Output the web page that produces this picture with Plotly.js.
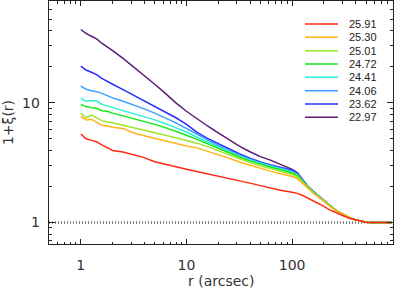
<!DOCTYPE html>
<html><head><meta charset="utf-8">
<script src="https://cdn.plot.ly/plotly-3.0.1.min.js"></script>
<style>html,body{margin:0;padding:0;background:#fff}#chart{width:395px;height:289px}</style>
</head><body><div id="chart"></div>
<script>
// radius grid (arcsec)
const R = [1,1.12,1.26,1.41,1.58,1.78,2.0,2.51,3.16,3.98,5.01,6.31,7.94,10,12.6,15.8,20,25.1,31.6,39.8,50.1,63.1,79.4,100,112,126,141,158,178,200,224,251,282,316,355,398,447,501,562,708,870];
// 1+xi(r) for each magnitude bin
const m2591 = [5.49,5.0,4.85,4.73,4.45,4.2,4.0,3.88,3.7,3.48,3.22,3.05,2.92,2.78,2.66,2.55,2.45,2.36,2.25,2.13,2.03,1.93,1.85,1.79,1.75,1.68,1.60,1.53,1.45,1.36,1.28,1.22,1.17,1.12,1.08,1.05,1.02,1.005,1.0,1.0,1.0];
const m2530 = [7.65,7.2,7.3,6.9,6.5,6.4,6.25,6.1,5.6,5.3,5.05,4.8,4.55,4.35,4.2,3.95,3.7,3.45,3.2,3.0,2.82,2.67,2.54,2.42,2.32,2.10,1.91,1.76,1.62,1.49,1.38,1.28,1.21,1.14,1.09,1.05,1.02,1.005,1.0,1.0,1.0];
const m2501 = [8.2,7.5,7.9,7.5,7.1,6.9,6.8,6.5,6.2,5.95,5.65,5.4,5.1,4.85,4.6,4.3,3.97,3.67,3.4,3.17,2.97,2.8,2.66,2.52,2.40,2.16,1.94,1.78,1.64,1.50,1.39,1.29,1.21,1.14,1.09,1.05,1.02,1.005,1.0,1.0,1.0];
const m2472 = [9.7,9.3,9.1,9.0,8.6,8.5,8.2,7.8,7.4,7.0,6.6,6.2,5.8,5.35,4.95,4.55,4.15,3.82,3.52,3.27,3.06,2.89,2.74,2.59,2.46,2.20,1.96,1.79,1.64,1.51,1.39,1.29,1.21,1.14,1.09,1.05,1.02,1.005,1.0,1.0,1.0];
const m2441 = [10.9,10.3,10.4,10.4,9.7,9.4,9.2,8.7,8.2,7.7,7.2,6.7,6.2,5.7,5.15,4.7,4.25,3.9,3.58,3.32,3.1,2.93,2.78,2.64,2.50,2.22,1.97,1.80,1.65,1.51,1.39,1.29,1.21,1.14,1.09,1.05,1.02,1.005,1.0,1.0,1.0];
const m2406 = [13.8,13.0,12.6,12.4,12.0,11.4,11.0,10.3,9.6,8.9,8.2,7.5,6.8,6.1,5.45,4.9,4.4,4.0,3.65,3.38,3.15,2.97,2.82,2.68,2.52,2.23,1.98,1.80,1.65,1.51,1.39,1.29,1.21,1.14,1.09,1.05,1.02,1.005,1.0,1.0,1.0];
const m2362 = [20.3,18.8,18.0,17.2,16.0,15.2,14.3,12.9,11.6,10.4,9.4,8.4,7.5,6.6,5.65,5.05,4.55,4.1,3.75,3.45,3.2,3.02,2.88,2.73,2.56,2.25,1.99,1.81,1.66,1.52,1.40,1.29,1.21,1.14,1.09,1.05,1.02,1.005,1.0,1.0,1.0];
const m2297 = [41,38,36,34.2,31.5,29.5,27.3,23.5,20,16.9,14.3,12.0,10.0,8.5,7.35,6.4,5.6,4.9,4.35,3.9,3.55,3.3,3.05,2.78,2.60,2.27,2.0,1.82,1.67,1.52,1.40,1.29,1.21,1.14,1.09,1.05,1.02,1.005,1.0,1.0,1.0];

const NAMES = ['25.91','25.30','25.01','24.72','24.41','24.06','23.62','22.97'];
const SERIES = [m2591,m2530,m2501,m2472,m2441,m2406,m2362,m2297];
const COLORS = ['#ff2a10','#ffb21a','#9be62a','#19e619','#2ff0d2','#3ea0ff','#2a2aff','#5a1a78'];
const REF_X = [0.5, 900];
const REF_Y = [1, 1];
const XTICKS = [1, 10, 100];
const XTICKTEXT = ['1', '10', '100'];
const YTICKS = [1, 10];
const YTICKTEXT = ['1', '10'];
const XTITLE = 'r (arcsec)';
const YTITLE = '1+ξ(r)';

const W = 395, H = 289;
const M = {l: 49, r: 2, t: 1, b: 45};
const pw = W - M.l - M.r, ph = H - M.t - M.b;
const px2x = p => (p - M.l) / pw;
const px2y = p => (H - M.b - p) / ph;

const traces = [{
  x: REF_X, y: REF_Y, mode: 'lines', showlegend: false, hoverinfo: 'skip',
  line: {color: '#6e6e6e', width: 2.5, dash: '1px,2px'}
}];
for (let i = SERIES.length - 1; i >= 0; i--) {
  traces.push({x: R, y: SERIES[i], mode: 'lines', name: NAMES[i], showlegend: false,
    line: {color: COLORS[i], width: 1.5}});
}

const axisFont = {family: 'DejaVu Sans, sans-serif', size: 14, color: '#333'};
const shapes = [], annotations = [];
NAMES.forEach((n, i) => {
  const yy = 24 + 13.33 * i;
  shapes.push({type: 'line', xref: 'paper', yref: 'paper', x0: px2x(305), x1: px2x(338),
    y0: px2y(yy), y1: px2y(yy), line: {color: COLORS[i], width: 1.5}});
  annotations.push({xref: 'paper', yref: 'paper', x: px2x(347), y: px2y(yy), text: n,
    showarrow: false, xanchor: 'left', yanchor: 'middle',
    font: {family: 'Liberation Sans, Arial, sans-serif', size: 11, color: '#222'}});
});
// x-axis title placed below the tick labels
annotations.push({xref: 'paper', yref: 'paper', x: 0.5, y: px2y(281), text: XTITLE,
  showarrow: false, xanchor: 'center', yanchor: 'middle', font: axisFont});

const layout = {
  width: W, height: H, margin: M, paper_bgcolor: '#fff', plot_bgcolor: '#fff',
  showlegend: false,
  xaxis: {type: 'log', range: [Math.log10(0.5), Math.log10(900)], tickvals: XTICKS, ticktext: XTICKTEXT,
    ticks: 'inside', ticklen: 5, tickwidth: 1, tickcolor: '#222', showgrid: false, zeroline: false,
    showline: true, linecolor: '#222', linewidth: 1.3, mirror: 'allticks', tickfont: axisFont,
    ticklabelstandoff: 8,
    minor: {dtick: 'D1', ticks: 'inside', ticklen: 2.5, tickcolor: '#222', tickwidth: 1, showgrid: false}},
  yaxis: {type: 'log', range: [Math.log10(0.66), Math.log10(71)], tickvals: YTICKS, ticktext: YTICKTEXT,
    ticks: 'inside', ticklen: 6, tickwidth: 1, tickcolor: '#222', showgrid: false, zeroline: false,
    showline: true, linecolor: '#222', linewidth: 1.3, mirror: 'allticks', tickfont: axisFont,
    ticklabelstandoff: 5,
    minor: {dtick: 'D1', ticks: 'inside', ticklen: 3, tickcolor: '#222', tickwidth: 1, showgrid: false},
    title: {text: YTITLE, font: axisFont, standoff: 8}},
  shapes: shapes, annotations: annotations
};
Plotly.newPlot('chart', traces, layout, {staticPlot: true, displayModeBar: false});
</script></body></html>
